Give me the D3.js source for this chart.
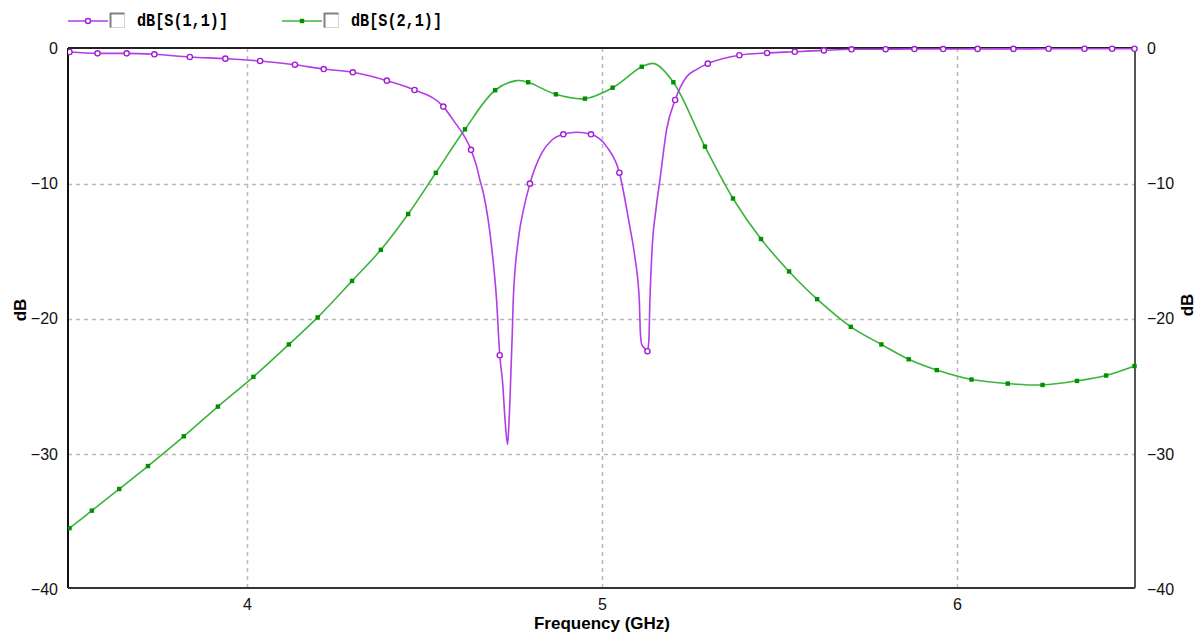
<!DOCTYPE html>
<html>
<head>
<meta charset="utf-8">
<script src="https://cdn.jsdelivr.net/npm/d3@7"></script>
<style>
  body { margin: 0; background: #fff; }
  svg { display: block; }
  .tick text { font-family: "Liberation Sans", Arial, sans-serif; font-size: 16px; fill: #111; }
</style>
</head>
<body>
<div id="chart"></div>
<script>
// S11 markers (GHz, dB)
const s11Freq = [3.500, 3.579, 3.661, 3.739, 3.839, 3.939, 4.037, 4.135, 4.216, 4.298, 4.394, 4.472,
  4.553, 4.631, 4.712, 4.797, 4.891, 4.969, 5.049, 5.128, 5.206, 5.298, 5.387, 5.465, 5.543, 5.625,
  5.703, 5.799, 5.880, 5.961, 6.058, 6.159, 6.258, 6.359, 6.437, 6.500];
const s11Db = [-0.26, -0.36, -0.36, -0.43, -0.63, -0.75, -0.92, -1.20, -1.52, -1.76, -2.38, -3.07,
  -4.30, -7.50, -22.7, -10.0, -6.35, -6.35, -9.19, -22.4, -3.81, -1.12, -0.50, -0.33, -0.24, -0.14,
  -0.06, -0.05, -0.04, -0.04, -0.03, -0.03, -0.02, -0.02, -0.02, -0.02];
// extra S11 trace points between markers (resonance dips)
const s11ExtraFreq = [4.581, 4.647, 4.656, 4.665, 4.690, 4.703, 4.720, 4.727, 4.734, 4.737, 4.741, 4.744,
  4.747, 4.750, 4.765, 4.780, 4.830, 4.859, 4.930, 5.013, 5.077, 5.093, 5.105, 5.108, 5.112, 5.121,
  5.132, 5.135, 5.141, 5.152, 5.163, 5.182, 5.239, 5.267];
const s11ExtraDb = [-5.3, -8.74, -9.73, -10.6, -14.9, -18.6, -24.7, -27.5, -29.3, -28.2, -25.8, -23.5,
  -21.3, -18.6, -14.0, -11.8, -7.75, -6.77, -6.2, -7.26, -13.0, -15.5, -18.6, -21.0, -21.9, -22.2,
  -21.6, -18.6, -14.9, -11.9, -9.75, -6.0, -2.08, -1.54];

// S21 markers (GHz, dB)
const s21Freq = [3.500, 3.563, 3.640, 3.721, 3.822, 3.918, 4.018, 4.118, 4.199, 4.296, 4.377, 4.454,
  4.532, 4.614, 4.699, 4.792, 4.870, 4.952, 5.030, 5.112, 5.201, 5.290, 5.369, 5.448, 5.527, 5.606,
  5.701, 5.787, 5.864, 5.943, 6.041, 6.143, 6.241, 6.338, 6.420, 6.500];
const s21Db = [-35.5, -34.2, -32.6, -30.9, -28.7, -26.5, -24.3, -21.9, -19.9, -17.2, -14.9, -12.25,
  -9.2, -5.98, -3.09, -2.5, -3.39, -3.71, -2.9, -1.35, -2.5, -7.26, -11.1, -14.1, -16.5, -18.55,
  -20.6, -21.9, -23.0, -23.8, -24.5, -24.8, -24.9, -24.6, -24.2, -23.5];
const s21ExtraFreq = [4.760, 5.148];
const s21ExtraDb = [-2.38, -1.12];

const xTicks = [4, 5, 6];
const yTicks = [0, -10, -20, -30, -40];
const seriesNames = ["dB[S(1,1)]", "dB[S(2,1)]"];

const width = 1200, height = 632;
const plot = { left: 68, right: 1135, top: 48, bottom: 588 };

const svg = d3.select("#chart").append("svg")
  .attr("width", width)
  .attr("height", height);

const x = d3.scaleLinear().domain([3.5, 6.5]).range([69.5, 1134.5]);
const y = d3.scaleLinear().domain([-40, 0]).range([589, 48.5]);

// grid
const grid = svg.append("g")
  .attr("stroke", "#b8b8b8")
  .attr("stroke-width", 1.5)
  .attr("stroke-dasharray", "4,4");
grid.selectAll(".vg").data(xTicks).join("line")
  .attr("x1", d => Math.round(x(d)) + 0.5).attr("x2", d => Math.round(x(d)) + 0.5)
  .attr("y1", plot.top).attr("y2", plot.bottom);
grid.selectAll(".hg").data(yTicks.filter(d => d > -40 && d < 0)).join("line")
  .attr("x1", plot.left).attr("x2", plot.right)
  .attr("y1", d => Math.round(y(d)) + 0.5).attr("y2", d => Math.round(y(d)) + 0.5);

// axes (labels only, frame drawn separately)
svg.append("g")
  .attr("transform", `translate(${plot.left},0)`)
  .call(d3.axisLeft(y).tickValues(yTicks).tickSize(0).tickPadding(10).tickFormat(d3.format("d")))
  .call(g => g.select(".domain").remove());
svg.append("g")
  .attr("transform", `translate(${plot.right},0)`)
  .call(d3.axisRight(y).tickValues(yTicks).tickSize(0).tickPadding(12).tickFormat(d3.format("d")))
  .call(g => g.select(".domain").remove());
svg.append("g")
  .attr("transform", `translate(0,${plot.bottom})`)
  .call(d3.axisBottom(x).tickValues(xTicks).tickSize(0).tickPadding(11).tickFormat(d3.format("d")))
  .call(g => g.select(".domain").remove());

// frame
svg.append("line").attr("x1", plot.left).attr("x2", plot.left).attr("y1", plot.top).attr("y2", plot.bottom)
  .attr("stroke", "#111").attr("stroke-width", 2);
svg.append("line").attr("x1", plot.left).attr("x2", plot.right).attr("y1", plot.top).attr("y2", plot.top)
  .attr("stroke", "#222").attr("stroke-width", 2);
svg.append("line").attr("x1", plot.left).attr("x2", plot.right).attr("y1", plot.bottom).attr("y2", plot.bottom)
  .attr("stroke", "#333").attr("stroke-width", 2);
svg.append("line").attr("x1", plot.right).attr("x2", plot.right).attr("y1", plot.top).attr("y2", plot.bottom)
  .attr("stroke", "#555").attr("stroke-width", 2);

// axis titles
svg.append("text")
  .attr("x", 602).attr("y", 629)
  .attr("text-anchor", "middle")
  .attr("font-family", "'Liberation Sans', Arial, sans-serif")
  .attr("font-weight", "bold").attr("font-size", 17)
  .text("Frequency (GHz)");
svg.append("text")
  .attr("transform", "translate(26,310) rotate(-90)")
  .attr("text-anchor", "middle")
  .attr("font-family", "'Liberation Sans', Arial, sans-serif")
  .attr("font-weight", "bold").attr("font-size", 17)
  .text("dB");
svg.append("text")
  .attr("transform", "translate(1193,305) rotate(-90)")
  .attr("text-anchor", "middle")
  .attr("font-family", "'Liberation Sans', Arial, sans-serif")
  .attr("font-weight", "bold").attr("font-size", 17)
  .text("dB");

// traces
svg.append("defs").append("clipPath").attr("id", "clip")
  .append("rect").attr("x", plot.left).attr("y", plot.top - 3)
  .attr("width", plot.right - plot.left + 3).attr("height", plot.bottom - plot.top + 3);

function trace(freq, db, extraF, extraD) {
  const pts = freq.map((f, i) => ({ f, v: db[i] }))
    .concat(extraF.map((f, i) => ({ f, v: extraD[i] })));
  return pts.sort((a, b) => a.f - b.f);
}

const series = [
  { name: seriesNames[0], freq: s11Freq, db: s11Db, extraF: s11ExtraFreq, extraD: s11ExtraDb,
    color: "#b43ce6", mark: "#a020d0", shape: "circle", curve: d3.curveMonotoneX },
  { name: seriesNames[1], freq: s21Freq, db: s21Db, extraF: s21ExtraFreq, extraD: s21ExtraDb,
    color: "#3cb43c", mark: "#009000", shape: "square", curve: d3.curveCatmullRom.alpha(0.5) }
];

const traces = svg.append("g").attr("clip-path", "url(#clip)");
series.slice().reverse().forEach(s => {
  const g = traces.append("g");
  const line = d3.line().x(d => x(d.f)).y(d => y(d.v)).curve(s.curve);
  g.append("path")
    .datum(trace(s.freq, s.db, s.extraF, s.extraD))
    .attr("fill", "none")
    .attr("stroke", s.color)
    .attr("stroke-width", 1.6)
    .attr("d", line);
  const pts = s.freq.map((f, i) => ({ f, v: s.db[i] }));
  if (s.shape === "circle") {
    g.selectAll("circle").data(pts).join("circle")
      .attr("cx", d => x(d.f)).attr("cy", d => y(d.v)).attr("r", 2.6)
      .attr("fill", "#fff").attr("stroke", s.mark).attr("stroke-width", 1.4);
  } else {
    g.selectAll("rect").data(pts).join("rect")
      .attr("x", d => x(d.f) - 2.2).attr("y", d => y(d.v) - 2.2)
      .attr("width", 4.4).attr("height", 4.4)
      .attr("fill", s.mark);
  }
});

// legend
const legendX = [68, 282];
series.forEach((s, i) => {
  const g = svg.append("g").attr("transform", `translate(${legendX[i]},0)`);
  g.append("line").attr("x1", 0).attr("x2", 40).attr("y1", 21).attr("y2", 21)
    .attr("stroke", s.color).attr("stroke-width", 1.6);
  if (s.shape === "circle") {
    g.append("circle").attr("cx", 20).attr("cy", 21).attr("r", 2.5)
      .attr("fill", "#fff").attr("stroke", s.mark).attr("stroke-width", 1.4);
  } else {
    g.append("rect").attr("x", 17.8).attr("y", 18.8).attr("width", 4.4).attr("height", 4.4).attr("fill", s.mark);
  }
  // checkbox
  g.append("rect").attr("x", 42.5).attr("y", 13.5).attr("width", 14).attr("height", 14)
    .attr("fill", "#fff").attr("stroke", "#d4d4d4");
  g.append("path").attr("d", "M42.5,27.5V13.5H56.5")
    .attr("fill", "none").attr("stroke", "#808080").attr("stroke-width", 2);
  g.append("text")
    .attr("x", 69).attr("y", 26)
    .attr("font-family", "'Liberation Mono', 'DejaVu Sans Mono', monospace")
    .attr("font-weight", "bold").attr("font-size", 18)
    .attr("textLength", 91).attr("lengthAdjust", "spacingAndGlyphs")
    .text(s.name);
});
</script>
</body>
</html>
